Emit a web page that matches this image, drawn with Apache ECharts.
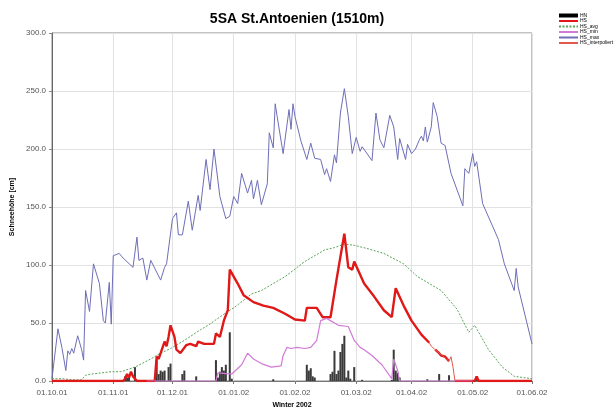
<!DOCTYPE html>
<html>
<head>
<meta charset="utf-8">
<script src="https://cdn.jsdelivr.net/npm/echarts@6/dist/echarts.min.js"></script>
<style>html,body{margin:0;padding:0;background:#fff}#c{width:614px;height:408px}</style>
</head>
<body>
<div id="c"></div>
<script>
// x values are days since 01.10.2001
const monthStarts = [0, 31, 61, 92, 123, 154, 182, 213, 243];
const tickLabels = ['01.10.01', '01.11.01', '01.12.01', '01.01.02', '01.02.02', '01.03.02', '01.04.02', '01.05.02', '01.06.02'];

const hnDays   = [37, 38, 39, 42, 53, 54, 55, 56, 57, 59, 60, 66, 67, 73, 83, 84, 85, 86, 87, 88, 90, 91, 112, 129, 130, 131, 132, 133, 141, 142, 143, 144, 145, 146, 147, 148, 149, 150, 151, 153, 157, 172, 173, 174, 175, 176, 190, 196, 201, 215];
const hnValues = [4, 3, 5, 12, 18, 6, 9, 8, 9, 12, 15, 6, 9, 4, 18, 3, 8, 12, 9, 14, 42, 2, 1.5, 14, 9, 11, 4, 3, 6, 8, 26, 6, 9, 25, 32, 39, 3, 9, 2, 12, 1, 1, 27, 9, 7, 3, 1.5, 6, 5, 4];

const hsDays   = [0, 36, 37, 38, 39, 40, 41, 43, 52, 53, 54, 55, 56, 57, 58, 59, 60, 62, 63, 65, 68, 70, 73, 74, 77, 82, 83, 85, 87, 89, 90, 94, 97, 102, 107, 112, 118, 123, 128, 129, 131, 134, 137, 141, 144, 145, 148, 150, 152, 153, 158, 163, 168, 172, 174, 178, 182, 187, 191, 192, 194, 196, 197, 199, 200, 201, 202, 204, 214, 215, 216, 243];
const hsValues = [0, 0, 2, 6, 3, 8, 4, 0, 0, 21, 19, 19, 29, 34, 30, 38, 48, 38, 27, 24, 31, 32, 30, 34, 32, 32, 41, 38, 52, 61, 96, 84, 74, 68, 65, 63, 58, 53, 52, 63, 63, 63, 55, 55, 87, 87, 127, 98, 96, 103, 84, 73, 61, 55, 80, 65, 52, 40, 33, null, 27, 24, 22, 21, 19, 17, null, 0, 0, 4, 0, 0];

const hsInterpDays   = [191, 192, 194, 201, 202, 203, 204];
const hsInterpValues = [33, 30, 27, 17, 21, 12, 0];

const hsAvgDays   = [0, 5, 10, 15, 17, 20, 30, 35, 42, 50, 55, 60, 67, 75, 79, 89, 92, 101, 106, 118, 128, 138, 143, 148, 153, 160, 168, 178, 185, 197, 205, 211, 214, 221, 228, 234, 243];
const hsAvgValues = [2, 2, 1, 1, 5, 6, 8, 8, 12, 19, 24, 28, 35, 44, 48, 60, 63, 75, 78, 90, 103, 113, 115, 118, 117, 114, 110, 101, 90, 78, 62, 42, 48, 27, 12, 4, 2];

const hsMinDays   = [48, 83, 84, 91, 92, 96, 99, 102, 106, 111, 116, 117, 119, 121, 124, 128, 131, 134, 136, 139, 145, 150, 153, 156, 158, 162, 167, 172, 173, 175, 176, 213];
const hsMinValues = [0, 0, 7, 6, 5, 14, 24, 19, 15, 12, 13, 22, 29, 28, 29, 28, 29, 35, 52, 54, 48, 47, 35, 29, 27, 22, 14, 2, 19, 9, 0, 0];

const hsMaxDays   = [0, 3, 5, 7, 8, 9, 10, 11, 13, 15, 16, 17, 19, 21, 24, 26, 27, 29, 30, 31, 34, 36, 41, 43, 44, 46, 48, 50, 55, 57, 58, 61, 63, 64, 66, 69, 71, 74, 75, 78, 80, 82, 85, 88, 90, 92, 94, 96, 99, 101, 102, 104, 106, 107, 109, 110, 112, 113, 114, 117, 118, 120, 121, 122, 123, 126, 129, 131, 133, 136, 138, 139, 141, 143, 144, 146, 148, 150, 152, 154, 156, 157, 162, 164, 166, 168, 171, 173, 175, 176, 177, 179, 180, 182, 184, 186, 187, 188, 189, 190, 192, 193, 195, 197, 199, 202, 208, 209, 211, 213, 214, 215, 218, 226, 229, 234, 235, 236, 243];
const hsMaxValues = [2, 45, 29, 9, 26, 23, 28, 24, 39, 27, 18, 78, 60, 101, 84, 52, 50, 85, 49, 108, 110, 106, 98, 124, 104, 106, 87, 104, 87, 98, 101, 140, 145, 126, 126, 155, 130, 160, 147, 191, 165, 200, 159, 140, 142, 159, 153, 179, 162, 173, 157, 173, 152, 151, 170, 214, 201, 239, 228, 196, 196, 234, 217, 239, 228, 207, 191, 205, 192, 191, 178, 183, 172, 195, 188, 231, 252, 228, 196, 210, 198, 202, 190, 231, 208, 201, 229, 219, 191, 209, 209, 191, 204, 196, 200, 208, 211, 207, 219, 206, 219, 240, 228, 205, 203, 179, 151, 183, 179, 196, 185, 189, 153, 122, 101, 78, 97, 81, 32];

function zip(xs, ys) { return xs.map((x, i) => [x, ys[i]]); }

const chart = echarts.init(document.getElementById('c'), null, { renderer: 'canvas' });
const FONT = 'Liberation Sans, Arial, sans-serif';

chart.setOption({
  animation: false,
  backgroundColor: '#fff',
  textStyle: { fontFamily: FONT },
  title: {
    text: '5SA St.Antoenien (1510m)',
    left: 292, top: 7, textAlign: 'center',
    textStyle: { fontSize: 14, fontWeight: 'bold', color: '#000', fontFamily: FONT }
  },
  legend: {
    orient: 'vertical', left: 553, top: 8,
    itemWidth: 19, itemHeight: 4, itemGap: 0.5,
    itemStyle: { opacity: 0 },
    textStyle: { fontSize: 5, color: '#000', padding: [0, 0, 0, -3] },
    data: [
      { name: 'HN', icon: 'rect', itemStyle: { opacity: 1, color: '#000' } },
      'HS', 'HS_avg', 'HS_min', 'HS_max', 'HS_interpoliert'
    ]
  },
  grid: {
    left: 52, right: 82, top: 33, bottom: 27,
    outerBoundsMode: 'none', containLabel: false,
    show: true, borderColor: '#888', borderWidth: 1, backgroundColor: 'transparent'
  },
  xAxis: {
    type: 'value', min: 0, max: 243,
    name: 'Winter 2002', nameLocation: 'middle', nameGap: 20,
    nameTextStyle: { fontSize: 7, fontWeight: 'bold', color: '#000' },
    axisLine: { show: true, lineStyle: { color: '#777' } },
    axisTick: { show: true, customValues: monthStarts, length: 3, lineStyle: { color: '#777' } },
    axisLabel: {
      customValues: monthStarts, fontSize: 8, color: '#555', margin: 8,
      formatter: v => tickLabels[monthStarts.indexOf(v)] || ''
    },
    splitLine: { show: true, lineStyle: { color: '#e2e2e2', width: 1 } }
  },
  yAxis: {
    type: 'value', min: 0, max: 300, interval: 50,
    name: 'Schneehöhe [cm]', nameLocation: 'middle', nameGap: 32, nameRotate: 90,
    nameTextStyle: { fontSize: 7, fontWeight: 'bold', color: '#000' },
    axisLine: { show: true, lineStyle: { color: '#666' } },
    axisTick: { show: true, length: 3, lineStyle: { color: '#888' } },
    axisLabel: { fontSize: 8, color: '#555', margin: 6, formatter: v => v.toFixed(1) },
    splitLine: { show: true, lineStyle: { color: '#e2e2e2', width: 1 } }
  },
  series: [
    {
      name: 'HN', type: 'bar', barWidth: 2, barGap: '-100%',
      itemStyle: { color: '#3a3a3a' },
      data: zip(hnDays, hnValues), z: 2
    },
    {
      name: 'HS_avg', type: 'line', symbol: 'none',
      lineStyle: { color: '#5aa55a', width: 1, type: [2, 1.5] },
      itemStyle: { color: '#5aa55a' },
      data: zip(hsAvgDays, hsAvgValues), z: 3
    },
    {
      name: 'HS_max', type: 'line', symbol: 'none',
      lineStyle: { color: '#6e6eb8', width: 1 },
      itemStyle: { color: '#6e6eb8' },
      data: zip(hsMaxDays, hsMaxValues), z: 3
    },
    {
      name: 'HS', type: 'line', symbol: 'none', connectNulls: false,
      lineStyle: { color: '#e01818', width: 2.4 },
      itemStyle: { color: '#e01818' },
      data: zip(hsDays, hsValues), z: 4
    },
    {
      name: 'HS_min', type: 'line', symbol: 'none',
      lineStyle: { color: '#d27ad8', width: 1.2 },
      itemStyle: { color: '#d27ad8' },
      data: zip(hsMinDays, hsMinValues), z: 5
    },
    {
      name: 'HS_interpoliert', type: 'line', symbol: 'none',
      lineStyle: { color: '#e05a4a', width: 1 },
      itemStyle: { color: '#d8a898' },
      data: zip(hsInterpDays, hsInterpValues), z: 4
    }
  ]
});
</script>
</body>
</html>
